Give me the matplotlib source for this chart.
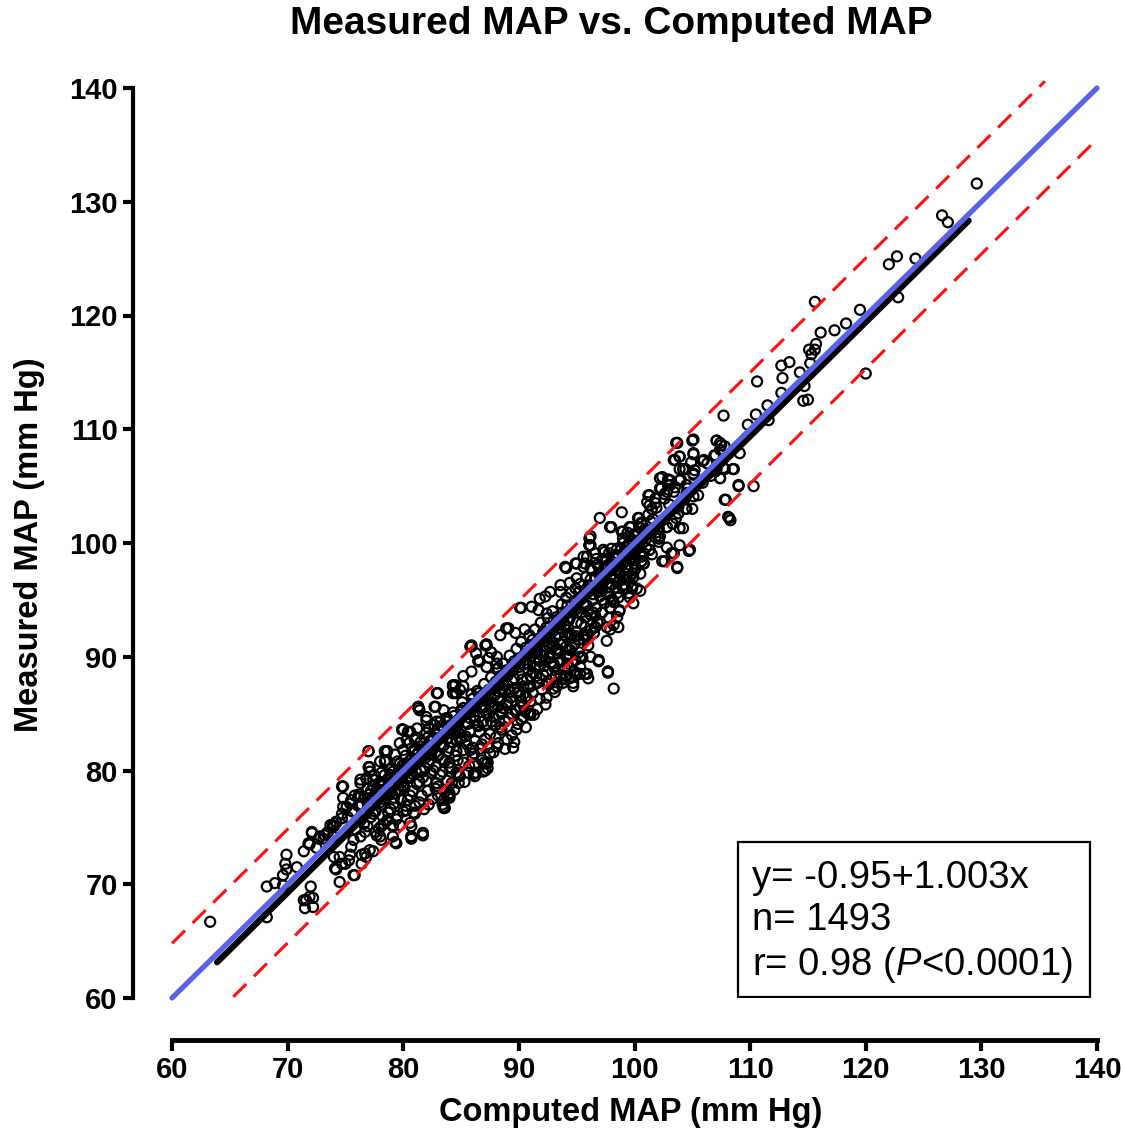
import numpy as np
import matplotlib
matplotlib.use("Agg")
import matplotlib.pyplot as plt
from matplotlib.patches import Rectangle

plt.rcParams['font.family'] = ['Liberation Sans', 'DejaVu Sans']
plt.rcParams['mathtext.fontset'] = 'custom'
plt.rcParams['mathtext.rm'] = 'Liberation Sans'
plt.rcParams['mathtext.it'] = 'Liberation Sans:italic'

# points (computed MAP, measured MAP)
pts_low = [
    (63.3, 66.7), (68.2, 67.1), (68.2, 69.8), (68.9, 70.1), (69.6, 69.9), (69.9, 72.6), (69.8, 71.8),
    (69.9, 71.3), (70.8, 71.5), (69.6, 70.8), (71.6, 68.6), (72.2, 68.8), (71.5, 67.9), (72.0, 69.8),
    (71.9, 68.9), (72.2, 68.0), (71.4, 68.6), (71.4, 72.9), (71.8, 73.6), (72.1, 74.5), (72.5, 73.2),
    (73.1, 74.0), (73.4, 74.5), (74.0, 75.1), (72.7, 74.0), (71.9, 73.5), (74.1, 71.4), (75.0, 71.8),
    (74.5, 70.2), (75.4, 72.6), (74.0, 72.4), (75.7, 70.8), (76.4, 71.8), (76.8, 72.4), (77.4, 72.9),
    (76.4, 72.6), (74.8, 78.6), (74.8, 77.6), (75.5, 77.4), (75.1, 76.8), (76.1, 77.7), (76.3, 78.9),
    (76.8, 79.3), (77.1, 79.9), (77.4, 79.2), (74.7, 75.8), (75.2, 75.9), (77.0, 81.7), (78.6, 81.7),
    (77.1, 80.3), (78.4, 80.8), (79.9, 83.6), (80.4, 83.4), (81.4, 85.3), (81.3, 85.6), (82.0, 84.7),
    (82.7, 85.6), (80.7, 74.2), (81.7, 74.3), (79.3, 73.7), (78.0, 74.2), (78.1, 75.1), (79.1, 75.2),
    (80.7, 75.1), (83.5, 76.8), (84.0, 77.8), (83.0, 77.8), (74.5, 72.4), (75.5, 73.3), (75.7, 73.9),
    (76.3, 74.2), (76.7, 74.6), (73.7, 75.2), (73.2, 74.3), (74.2, 75.4), (73.9, 74.2), (74.7, 71.8),
    (74.2, 71.3), (75.3, 72.1), (75.8, 70.8), (76.7, 72.7), (77.1, 73.0), (77.7, 74.3), (78.1, 73.9),
    (79.1, 74.2), (79.4, 73.6), (80.7, 74.0), (81.7, 74.5), (72.1, 74.6), (72.8, 74.2), (73.5, 74.6),
    (73.9, 75.2), (74.2, 75.5), (74.7, 78.6), (76.3, 79.2), (75.8, 77.8), (75.4, 77.1), (76.3, 77.7),
    (74.8, 76.8), (74.7, 76.2),
]

pts_core = [
    (76.2, 77.9), (76.5, 76.1), (76.6, 75.3), (76.9, 78.4), (77.0, 76.8), (77.2, 75.9), (77.3, 77.5),
    (77.5, 79.6), (77.6, 76.4), (77.8, 78.1), (77.9, 74.9), (78.0, 77.2), (78.1, 79.8), (78.2, 76.0),
    (78.3, 78.7), (78.4, 77.5), (78.5, 80.9), (78.6, 75.6), (78.7, 79.3), (78.8, 77.9), (78.9, 76.6),
    (79.0, 80.2), (79.1, 78.6), (79.2, 77.1), (79.3, 81.4), (79.4, 79.5), (79.5, 76.0), (79.6, 78.2),
    (79.7, 80.6), (79.8, 77.4), (79.9, 79.0), (80.0, 81.8), (80.1, 78.5), (80.2, 76.9), (80.3, 80.1),
    (80.4, 79.3), (80.5, 82.4), (80.6, 77.8), (80.7, 81.0), (80.8, 79.7), (80.9, 76.3), (81.0, 80.5),
    (81.1, 82.9), (81.2, 78.8), (81.3, 81.6), (81.4, 77.2), (81.5, 80.0), (81.6, 82.1), (81.7, 79.4),
    (81.8, 76.6), (81.9, 81.1), (82.0, 83.3), (82.1, 78.2), (82.2, 80.7), (82.3, 82.6), (82.4, 79.8),
    (82.5, 77.5), (82.6, 81.9), (82.7, 84.0), (82.8, 80.3), (82.9, 78.9), (83.0, 82.8), (83.1, 81.4),
    (83.2, 79.6), (83.3, 83.9), (83.4, 77.0), (83.5, 82.2), (83.6, 80.8), (83.7, 84.6), (83.8, 79.1),
    (83.9, 81.7), (84.0, 83.4), (84.1, 80.2), (84.2, 82.5), (84.3, 85.1), (84.4, 78.3), (84.5, 81.3),
    (84.6, 83.8), (84.7, 80.9), (84.8, 84.5), (84.9, 79.5), (85.0, 82.9), (85.1, 86.0), (85.2, 81.8),
    (85.3, 79.0), (85.4, 84.2), (85.5, 82.3), (85.6, 85.4), (85.7, 80.4), (85.8, 83.5), (85.9, 86.7),
    (86.0, 81.2), (86.1, 84.8), (86.2, 82.6), (86.3, 79.8), (86.4, 87.0), (86.5, 83.9), (86.6, 81.9),
    (86.7, 85.6), (86.8, 80.9), (86.9, 84.3), (87.0, 87.6), (87.1, 82.8), (87.2, 86.1), (87.3, 80.2),
    (87.4, 84.9), (87.5, 83.2), (87.6, 88.2), (87.7, 85.7), (87.8, 81.6), (87.9, 86.6), (88.0, 84.0),
    (88.1, 88.9), (88.2, 82.4), (88.3, 86.9), (88.4, 85.2), (88.5, 83.6), (88.6, 89.4), (88.7, 87.5),
    (88.8, 81.9), (88.9, 85.8), (89.0, 88.3), (89.1, 84.6), (89.2, 90.1), (89.3, 86.4), (89.4, 83.1),
    (89.5, 88.8), (89.6, 87.2), (89.7, 85.3), (89.8, 90.7), (89.9, 84.1), (90.0, 89.1), (90.1, 86.6),
    (90.2, 91.3), (90.3, 88.0), (90.4, 85.7), (90.5, 90.2), (90.6, 83.8), (90.7, 89.4), (90.8, 87.3),
    (90.9, 91.9), (91.0, 86.1), (91.1, 90.6), (91.2, 88.6), (91.3, 84.9), (91.4, 92.4), (91.5, 89.8),
    (91.6, 87.7), (91.7, 91.2), (91.8, 86.3), (91.9, 93.0), (92.0, 90.1), (92.1, 88.4), (92.2, 92.0),
    (92.3, 85.8), (92.4, 90.9), (92.5, 93.4), (92.6, 87.6), (92.7, 91.6), (92.8, 89.5), (92.9, 94.0),
    (93.0, 92.3), (93.1, 86.9), (93.2, 90.6), (93.3, 93.5), (93.4, 88.9), (93.5, 92.9), (93.6, 91.1),
    (93.7, 94.6), (93.8, 87.7), (93.9, 93.6), (94.0, 91.9), (94.1, 95.2), (94.2, 89.4), (94.3, 93.2),
    (94.4, 92.0), (94.5, 95.6), (94.6, 90.8), (94.7, 94.1), (94.8, 88.7), (94.9, 96.0), (95.0, 93.0),
    (95.1, 94.8), (95.2, 91.5), (95.3, 96.4), (95.4, 93.9), (95.5, 89.9), (95.6, 95.3), (95.7, 92.6),
    (95.8, 97.0), (95.9, 94.5), (96.0, 91.0), (96.1, 96.3), (96.2, 93.7), (96.3, 97.6), (96.4, 95.0),
    (96.5, 92.1), (96.6, 96.9), (96.7, 94.3), (96.8, 98.1), (96.9, 95.7), (97.0, 93.1), (97.1, 97.3),
    (97.2, 96.0), (97.3, 98.6), (97.4, 94.7), (97.5, 97.8), (97.6, 91.4), (97.7, 96.5), (97.8, 99.1),
    (97.9, 95.3), (98.0, 97.2), (98.2, 98.7), (98.4, 96.1), (98.5, 99.5), (98.7, 94.0), (98.8, 97.9),
    (99.0, 100.0), (99.1, 96.8), (99.3, 98.9), (99.5, 100.6), (99.6, 95.2), (99.8, 99.3), (100.0, 97.6),
]

pts_band = [
    (75.6, 76.4), (75.9, 74.8), (76.1, 76.9), (76.3, 75.6), (76.7, 77.6), (76.9, 75.1), (77.2, 78.2),
    (77.4, 76.2), (77.6, 74.6), (77.9, 78.8), (78.1, 77.0), (78.3, 75.3), (78.5, 78.0), (78.7, 76.3),
    (78.9, 79.6), (79.2, 77.6), (79.4, 75.7), (79.6, 79.9), (79.8, 78.3), (80.0, 76.4), (80.2, 79.8),
    (80.4, 77.4), (80.6, 80.9), (80.8, 78.2), (81.0, 76.9), (81.2, 81.4), (81.4, 79.0), (81.6, 77.8),
    (81.8, 82.4), (82.0, 79.1), (82.2, 77.0), (82.4, 82.2), (82.6, 80.0), (82.8, 78.4), (83.0, 81.3),
    (83.2, 84.3), (83.4, 79.9), (83.6, 78.1), (83.8, 82.8), (84.0, 80.7), (84.2, 78.9), (84.4, 83.2),
    (84.6, 81.7), (84.8, 79.6), (85.0, 85.3), (85.2, 80.7), (85.4, 82.6), (85.6, 79.8), (85.8, 84.6),
    (86.0, 82.0), (86.2, 80.6), (86.4, 84.0), (86.6, 86.2), (86.8, 82.3), (87.0, 80.7), (87.2, 85.0),
    (87.4, 82.0), (87.6, 84.3), (87.8, 87.3), (88.0, 82.9), (88.2, 85.6), (88.4, 83.8), (88.6, 87.2),
    (88.8, 84.3), (89.0, 82.7), (89.2, 86.9), (89.4, 85.0), (89.6, 88.1), (89.8, 83.6), (90.0, 87.0),
    (90.2, 84.5), (90.4, 89.3), (90.6, 86.5), (90.8, 85.0), (91.0, 88.3), (91.2, 86.8), (91.4, 90.3),
    (91.6, 85.4), (91.8, 89.6), (92.0, 87.1), (92.2, 89.2), (92.4, 86.4), (92.6, 91.0), (92.8, 88.0),
    (93.0, 90.9), (93.2, 88.3), (93.4, 92.0), (93.6, 89.6), (93.8, 91.3), (94.0, 89.0), (94.2, 92.6),
    (94.4, 90.1), (94.6, 93.9), (94.8, 91.1), (95.0, 92.2), (95.2, 90.4), (95.4, 95.1), (95.6, 91.9),
    (95.8, 93.5), (96.0, 96.2), (96.2, 92.3), (96.4, 93.9), (96.6, 95.9), (96.8, 93.0), (97.0, 95.3),
    (97.2, 93.9), (97.4, 97.9), (97.6, 95.6), (97.8, 93.4), (98.0, 96.4), (98.2, 94.8), (98.4, 97.6),
    (98.6, 95.2), (98.8, 98.4), (99.0, 96.0), (99.2, 99.1), (99.4, 97.6), (99.6, 99.9), (99.8, 97.3),
    (100.0, 98.7), (100.2, 99.5), (100.4, 101.4), (100.7, 100.5), (101.0, 99.6), (101.4, 101.9),
    (101.8, 100.5),
]

pts_line = [
    (76.4, 77.0), (76.8, 76.2), (77.1, 77.9), (77.4, 78.6), (77.7, 77.3), (78.0, 79.0), (78.2, 78.3),
    (78.4, 79.6), (78.6, 77.8), (78.8, 80.1), (79.0, 78.9), (79.1, 79.9), (79.3, 78.0), (79.5, 80.8),
    (79.7, 79.2), (79.9, 80.4), (80.0, 78.7), (80.2, 81.3), (80.4, 80.6), (80.6, 79.5), (80.8, 81.7),
    (81.0, 81.9), (81.1, 79.9), (81.3, 80.8), (81.5, 82.5), (81.7, 81.2), (81.9, 80.2), (82.0, 82.1),
    (82.2, 83.0), (82.4, 81.4), (82.6, 82.8), (82.8, 81.6), (83.0, 83.7), (83.2, 82.3), (83.4, 81.0),
    (83.6, 83.2), (83.8, 84.3), (84.0, 82.0), (84.2, 83.6), (84.4, 84.8), (84.6, 82.7), (84.8, 83.3),
    (85.0, 84.6), (85.2, 85.5), (85.4, 83.0), (85.6, 84.1), (85.8, 85.1), (86.0, 86.3), (86.2, 84.4),
    (86.4, 85.9), (86.6, 83.4), (86.8, 86.6), (87.0, 85.3), (87.2, 84.1), (87.4, 87.1), (87.6, 86.0),
    (87.8, 84.7), (88.0, 87.8), (88.2, 86.4), (88.4, 88.3), (88.6, 85.5), (88.8, 87.0), (89.0, 86.0),
    (89.2, 88.7), (89.4, 87.9), (89.6, 89.6), (89.8, 86.8), (90.0, 88.5), (90.2, 89.9), (90.4, 87.4),
    (90.6, 90.8), (90.8, 88.9), (91.0, 90.0), (91.2, 91.5), (91.4, 89.1), (91.6, 90.4), (91.8, 88.1),
    (92.0, 91.8), (92.2, 90.5), (92.4, 92.6), (92.6, 89.9), (92.8, 91.2), (93.0, 93.1), (93.2, 91.7),
    (93.4, 90.3), (93.6, 92.5), (93.8, 93.9), (94.0, 92.8), (94.2, 94.5), (94.4, 93.4), (94.6, 91.9),
    (94.8, 94.9), (95.0, 94.2), (95.2, 95.7), (95.4, 92.9), (95.6, 94.6), (95.8, 95.9), (96.0, 94.0),
    (96.2, 96.8), (96.4, 95.5), (96.6, 93.6), (96.8, 96.3), (97.0, 97.4), (97.2, 95.0), (97.4, 96.7),
    (97.6, 98.0), (97.8, 96.1), (98.0, 98.4), (98.2, 97.0), (98.4, 98.9), (98.6, 96.6), (98.8, 99.4),
    (99.0, 98.2), (99.2, 97.3), (99.4, 99.8), (99.6, 98.6), (99.8, 100.3), (100.0, 99.1), (100.3, 100.2),
    (100.6, 99.0), (100.9, 101.2), (101.3, 100.8), (101.6, 102.1),
    (77.0, 77.1), (77.8, 77.6), (78.3, 78.9), (79.0, 79.4), (79.6, 79.0), (80.1, 80.6), (80.7, 80.2),
    (81.2, 81.0), (81.8, 81.9), (82.3, 81.8), (82.9, 83.2), (83.5, 83.6), (84.1, 84.0), (84.7, 84.1),
    (85.3, 85.0), (85.9, 85.7), (86.5, 86.8), (87.1, 86.5), (87.7, 87.2), (88.3, 87.6), (88.9, 88.8),
    (89.5, 89.2), (90.1, 89.4), (90.7, 90.3), (91.3, 91.0), (91.9, 91.7), (92.5, 92.1), (93.1, 92.8),
    (93.7, 93.4), (94.3, 94.0), (94.9, 94.4), (95.5, 95.2), (96.1, 95.8), (96.7, 96.1), (97.3, 97.0),
    (97.9, 97.6), (98.5, 98.1), (99.1, 98.8), (99.7, 99.4), (100.3, 100.8),
]

pts_spread = [
    (85.9, 91.0), (87.2, 91.0), (86.6, 89.6), (87.4, 89.9), (88.1, 90.0), (88.2, 89.0), (84.3, 87.5),
    (82.9, 86.8), (84.5, 86.8), (85.2, 87.4), (81.3, 85.5), (82.8, 85.6), (83.5, 85.3), (83.8, 84.6),
    (82.9, 84.3), (80.0, 83.6), (80.6, 83.4), (81.2, 83.7), (82.2, 83.7), (82.0, 84.4), (78.6, 81.7),
    (79.7, 82.4), (80.3, 82.7), (81.0, 82.7), (77.0, 81.7), (78.0, 80.8), (77.0, 80.3), (86.1, 79.7),
    (86.9, 79.9), (87.2, 80.6), (86.1, 81.5), (84.9, 82.7), (85.8, 81.8), (83.5, 76.7), (83.9, 77.8),
    (83.0, 78.6), (84.6, 79.8), (84.0, 80.3), (84.8, 78.9), (81.7, 74.5), (80.6, 75.4), (81.0, 76.2),
    (80.3, 76.5), (79.7, 75.2), (79.1, 75.1), (80.7, 74.2), (98.2, 87.2), (97.7, 88.6), (96.9, 89.6),
    (96.0, 88.1), (95.3, 88.5), (94.7, 87.4), (94.4, 88.1), (93.3, 87.4), (94.0, 88.1), (95.4, 89.9),
    (94.9, 89.7), (94.1, 90.0), (94.4, 90.6), (91.0, 85.0), (89.6, 82.5), (89.5, 82.0), (87.3, 80.7),
    (87.1, 80.0), (86.2, 79.5), (88.1, 82.1), (87.5, 81.5), (84.0, 78.0), (83.5, 77.4), (83.6, 76.7),
    (84.0, 77.6), (99.5, 95.6), (99.9, 94.7), (100.2, 96.0), (99.3, 97.0), (99.9, 97.0), (92.1, 92.2),
    (93.0, 92.6), (94.0, 92.8), (93.3, 90.7), (92.7, 90.3), (94.4, 90.6), (92.3, 89.7), (93.0, 89.1),
    (93.6, 88.4), (90.1, 85.6), (89.8, 85.3), (90.4, 84.7), (90.2, 94.3), (88.9, 92.5), (87.2, 91.1),
    (85.8, 90.9), (86.5, 89.7), (83.0, 86.8), (81.3, 85.6), (79.9, 83.6), (78.4, 81.7), (84.3, 87.4),
    (84.6, 86.8), (94.0, 97.9), (95.0, 98.2), (97.9, 101.4), (99.0, 101.0), (99.7, 101.4), (100.5, 101.3),
    (96.1, 100.4), (96.1, 99.8), (97.4, 99.2), (98.2, 98.9), (95.6, 98.8), (94.9, 98.2), (94.1, 97.8),
    (95.7, 98.2), (96.7, 98.6), (94.4, 96.5), (95.0, 96.9), (93.6, 96.3), (92.7, 95.7), (91.8, 95.1),
    (92.3, 95.3), (93.6, 95.7), (90.1, 94.3), (91.1, 94.4), (91.7, 94.1), (92.4, 93.8), (89.1, 92.5),
    (88.4, 91.9), (89.7, 92.1), (90.5, 92.4), (87.1, 91.0), (85.9, 90.9), (86.3, 90.3), (87.6, 90.4),
    (86.5, 89.6), (87.2, 89.1), (88.1, 89.4), (85.9, 88.7), (85.2, 88.3), (84.5, 87.5), (84.3, 86.8),
    (84.9, 87.1), (100.8, 99.1), (100.6, 98.4), (100.0, 98.2), (100.5, 97.3), (99.3, 97.0), (99.8, 96.2),
    (99.0, 96.3), (98.5, 95.6), (98.7, 97.3), (98.0, 95.0), (97.9, 94.3), (98.7, 94.1), (98.5, 93.5),
    (98.2, 92.8), (97.6, 92.6), (96.6, 92.6), (95.9, 91.9), (95.6, 91.5), (95.0, 91.8), (96.9, 89.7),
    (97.7, 88.7), (96.2, 90.0), (95.4, 90.0), (95.3, 89.1), (95.9, 88.5), (95.0, 88.4), (94.1, 88.3),
    (94.7, 87.7), (93.8, 88.0), (94.1, 90.0), (93.4, 90.6), (93.0, 89.4), (92.4, 88.7), (91.8, 89.1),
    (91.5, 88.3), (92.4, 87.7), (93.0, 87.2), (90.7, 88.0), (91.0, 87.4), (90.0, 86.9), (90.2, 86.1),
    (90.5, 85.2), (91.0, 84.9), (89.1, 87.1), (88.4, 86.2), (87.8, 85.5), (88.5, 85.0), (87.1, 85.6),
    (98.1, 95.0), (97.9, 94.3), (98.6, 92.6), (97.9, 92.4), (96.6, 92.6), (96.9, 89.7), (97.7, 88.7),
    (95.7, 91.8), (95.3, 90.0), (94.1, 90.9), (94.9, 88.5), (95.7, 88.5),
]

pts_high = [
    (129.6, 131.6), (126.6, 128.8), (127.1, 128.2), (122.0, 124.5), (122.7, 125.2), (124.3, 125.0),
    (122.8, 121.6), (115.6, 121.2), (119.5, 120.5), (118.3, 119.3), (117.3, 118.7), (116.1, 118.5),
    (115.7, 117.5), (115.6, 117.0), (115.1, 117.0), (115.3, 116.6), (112.7, 115.6), (113.4, 115.9),
    (115.2, 115.8), (114.3, 115.0), (112.8, 114.5), (110.6, 114.2), (114.7, 113.8), (120.0, 114.9),
    (112.7, 113.2), (111.5, 112.1), (114.6, 112.5), (115.0, 112.6), (110.5, 111.3), (109.8, 110.4),
    (111.6, 110.8), (107.7, 111.2), (107.1, 109.0), (107.5, 108.6), (103.6, 108.8), (105.0, 109.0),
    (105.1, 107.8), (103.9, 107.6), (103.4, 107.3), (106.0, 107.3), (106.9, 107.7), (109.1, 107.9),
    (104.2, 106.5), (108.5, 106.5), (107.7, 106.6), (102.2, 105.7), (102.9, 105.6), (102.3, 104.8),
    (103.1, 105.1), (105.1, 106.0), (107.4, 105.7), (109.0, 105.0), (110.3, 105.0), (101.3, 104.2),
    (101.8, 103.5), (101.3, 103.3), (104.5, 103.0), (103.8, 103.2), (107.9, 103.8), (108.2, 102.2),
    (108.3, 102.0), (98.9, 102.7), (100.4, 102.2), (97.0, 102.2), (97.9, 101.4), (99.6, 101.4),
    (99.4, 100.9), (102.1, 101.3), (102.8, 101.4), (104.2, 101.3), (102.1, 100.4), (96.2, 100.6),
    (96.1, 99.8), (103.4, 99.1), (104.7, 99.3), (102.6, 98.4), (103.7, 97.8), (100.6, 98.4),
    (101.3, 99.4), (100.5, 99.1), (99.6, 97.0), (99.2, 96.3), (99.8, 96.0), (100.5, 95.8),
    (103.7, 108.8), (105.1, 109.1), (107.1, 109.0), (107.4, 108.8), (107.8, 108.5), (107.0, 107.7),
    (103.9, 107.6), (105.1, 107.9), (105.9, 107.2), (104.9, 107.1), (103.5, 107.3), (103.9, 106.5),
    (104.4, 106.5), (105.1, 106.1), (103.9, 105.5), (103.1, 105.5), (102.4, 105.8), (102.9, 105.1),
    (102.2, 104.8), (101.8, 103.9), (101.2, 104.2), (102.8, 104.5), (103.4, 104.5), (102.6, 103.9),
    (107.1, 106.5), (107.8, 106.5), (108.6, 106.5), (107.4, 105.7), (109.0, 105.1), (107.8, 103.8),
    (108.1, 102.3), (104.5, 105.1), (104.5, 104.4), (105.1, 104.1), (104.4, 103.0), (103.6, 102.2),
    (102.8, 101.4), (102.1, 100.4), (103.9, 101.3), (101.1, 103.6), (100.3, 102.2), (101.5, 103.0),
    (98.0, 101.4), (96.2, 99.8), (99.6, 101.4), (98.9, 101.0), (101.1, 101.1), (100.6, 101.7),
    (99.0, 100.4), (100.0, 100.7), (102.2, 100.6), (101.3, 99.4), (100.8, 98.2), (100.1, 97.8),
    (100.6, 98.8), (99.6, 98.7), (102.4, 98.4), (103.2, 99.1), (103.7, 97.9), (104.8, 99.4),
    (103.9, 99.8), (95.9, 98.8), (96.6, 99.1), (97.3, 99.4), (98.0, 99.5), (98.5, 98.8), (99.0, 99.1),
    (97.6, 98.5), (96.9, 97.9), (96.2, 97.8), (95.6, 97.9), (100.2, 100.9), (100.4, 99.6),
    (100.6, 101.8), (100.8, 98.2), (101.0, 100.4), (101.2, 102.5), (101.5, 99.0), (101.7, 101.3),
    (101.9, 103.1), (102.1, 100.1), (102.4, 102.0), (102.6, 104.3), (102.8, 99.6), (103.0, 103.4),
    (103.3, 101.7), (103.5, 104.9), (103.8, 102.6), (104.0, 105.6), (104.3, 103.8), (104.6, 104.8),
    (105.0, 103.0), (105.2, 106.4), (105.5, 104.2), (105.9, 105.3), (106.3, 107.0), (106.6, 105.9),
    (107.0, 106.3), (107.4, 108.2),
]

# lines
identity_x = [60, 140]
upper_x, upper_y = [60, 135.5], [64.8, 140.6]
lower_x, lower_y = [65.3, 140], [60.1, 135.5]
fit_x = [63.9, 128.9]
intercept, slope = -0.95, 1.003

stats_lines = ['y= -0.95+1.003x', 'n= 1493', r'r= 0.98 ($\mathit{P}$<0.0001)']

pts = np.array(pts_low + pts_core + pts_band + pts_line + pts_spread + pts_high)

fig = plt.figure(figsize=(11.25, 11.37), dpi=100)
ax = fig.add_axes([172 / 1125, 139 / 1137, 925 / 1125, 910 / 1137])

ax.scatter(pts[:, 0], pts[:, 1], s=52, facecolors='none', edgecolors='black',
           linewidths=1.6, zorder=2, clip_on=False)

fx = np.array(fit_x)
ax.plot(fx, intercept + slope * fx, color='black', lw=4.5, solid_capstyle='round', zorder=3)
ax.plot(upper_x, upper_y, color='#ff1010', lw=2.2, ls=(0, (6, 3.5)), zorder=4, clip_on=False)
ax.plot(lower_x, lower_y, color='#ff1010', lw=2.2, ls=(0, (6, 3.5)), zorder=4, clip_on=False)
ax.plot(identity_x, identity_x, color='#5a62e8', lw=3.8, solid_capstyle='round', zorder=5, clip_on=False)

ax.set_xlim(60, 140)
ax.set_ylim(60, 140)
ax.set_xticks(np.arange(60, 141, 10))
ax.set_yticks(np.arange(60, 141, 10))

for s in ['top', 'right']:
    ax.spines[s].set_visible(False)
ax.spines['left'].set_position(('outward', 28))
ax.spines['bottom'].set_position(('outward', 30))
ax.spines['left'].set_linewidth(3)
ax.spines['bottom'].set_linewidth(3.5)
ax.tick_params(axis='x', length=8, width=3, pad=4)
ax.tick_params(axis='y', length=7, width=3, pad=4)
for lab in ax.get_xticklabels():
    lab.set_fontweight('bold')
    lab.set_fontsize(21)
for lab in ax.get_yticklabels():
    lab.set_fontweight('bold')
    lab.set_fontsize(21)

# stats box
ax.add_patch(Rectangle((108.95, 60.1), 30.45, 13.6, fill=False, lw=1.6,
                       edgecolor='black', zorder=6))
for txt, yy in zip(stats_lines, [70.55, 66.85, 62.9]):
    ax.text(110.2, yy, txt, fontsize=27.5, va='center', ha='left', zorder=7)

fig.text(611 / 1125, 1 - 24 / 1137, 'Measured MAP vs. Computed MAP', ha='center', va='center',
         fontsize=28, fontweight='bold')
fig.text(631 / 1125, 1 - 1112 / 1137, 'Computed MAP (mm Hg)', ha='center', va='center',
         fontsize=23.5, fontweight='bold')
fig.text(30 / 1125, 1 - 545 / 1137, 'Measured MAP (mm Hg)', ha='center', va='center',
         rotation=90, fontsize=23.5, fontweight='bold')

fig.savefig('out.png', dpi=100)
